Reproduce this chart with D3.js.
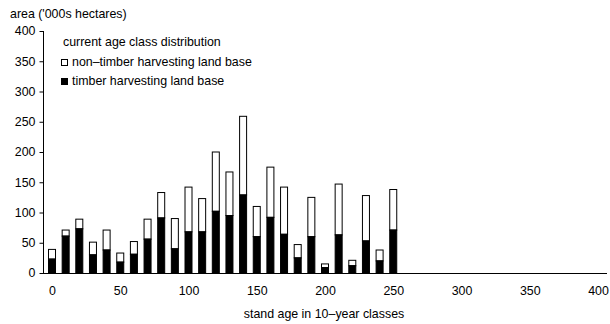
<!DOCTYPE html>
<html><head><meta charset="utf-8">
<script src="https://cdn.jsdelivr.net/npm/d3@7"></script>
<style>body{margin:0;background:#fff}svg{display:block}text{font-family:"Liberation Sans",Arial,sans-serif;fill:#000}</style>
</head><body><svg id="c" width="610" height="324"></svg>
<script>
const ages = [0,10,20,30,40,50,60,70,80,90,100,110,120,130,140,150,160,170,180,190,200,210,220,230,240,250];
const timber = [23,61,73,30,38,18,31,56,91,40,68,68,102,95,129,60,92,64,25,60,9,63,12,53,20,71];
const nonTimber = [16,10,16,21,33,15,21,33,42,50,74,55,98,72,130,50,83,78,22,65,6,84,9,75,18,67];
const yTicks = [0,50,100,150,200,250,300,350,400];
const xTicks = [0,50,100,150,200,250,300,350,400];

const FS = "12.4px";
const svg = d3.select("#c");
const x = d3.scaleLinear().domain([-6.6, 406.6]).range([43, 607]);
const y = d3.scaleLinear().domain([0, 400]).range([273, 31]);
const bw = 7;

const data = ages.map((a,i)=>({a, t: timber[i], n: nonTimber[i]}));

svg.append("g").selectAll("rect").data(data).join("rect")
  .attr("x", d=>x(d.a)-bw/2).attr("width", bw)
  .attr("y", d=>y(d.t+d.n)).attr("height", d=>y(d.t)-y(d.t+d.n))
  .attr("fill","#fff").attr("stroke","#000").attr("stroke-width",1);
svg.append("g").selectAll("rect").data(data).join("rect")
  .attr("x", d=>x(d.a)-bw/2).attr("width", bw)
  .attr("y", d=>y(d.t)).attr("height", d=>y(0)-y(d.t))
  .attr("fill","#000").attr("stroke","#000").attr("stroke-width",1);

const ya = svg.append("g").attr("transform","translate(43.5,0)")
  .call(d3.axisLeft(y).tickValues(yTicks).tickSize(4).tickPadding(4).tickFormat(d3.format("d")));
ya.select(".domain").attr("d","M0,"+y(400)+"V"+y(0));
ya.selectAll("text").style("font-size",FS);

const xa = svg.append("g").attr("transform","translate(0,273.5)")
  .call(d3.axisBottom(x).tickValues(xTicks).tickSize(0).tickPadding(13).tickFormat(d3.format("d")));
xa.selectAll("text").style("font-size",FS);
xa.select(".domain").attr("d","M43,0H607");

svg.append("text").attr("x",10).attr("y",18).style("font-size",FS).text("area ('000s hectares)");
svg.append("text").attr("x",324).attr("y",318).attr("text-anchor","middle").style("font-size",FS).text("stand age in 10–year classes");

svg.append("text").attr("x",63).attr("y",46).style("font-size",FS).text("current age class distribution");
svg.append("rect").attr("x",61.5).attr("y",59.5).attr("width",6).attr("height",6).attr("fill","#fff").attr("stroke","#000");
svg.append("text").attr("x",72).attr("y",66).style("font-size",FS).text("non–timber harvesting land base");
svg.append("rect").attr("x",61.5).attr("y",78.5).attr("width",6).attr("height",6).attr("fill","#000").attr("stroke","#000");
svg.append("text").attr("x",72).attr("y",85).style("font-size",FS).text("timber harvesting land base");
</script></body></html>
